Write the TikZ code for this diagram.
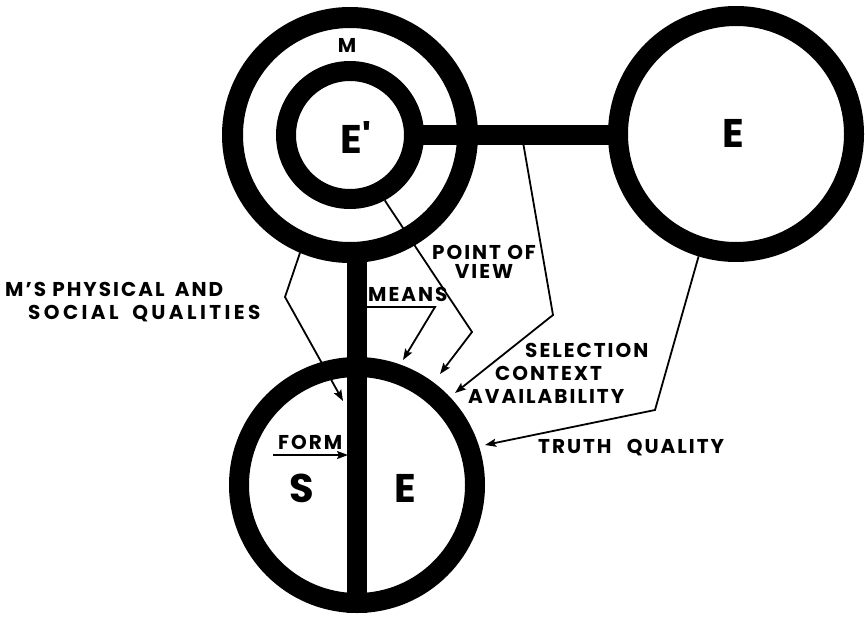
\documentclass[tikz,border=0pt]{standalone}
\usepackage{fontspec}
\usepackage{tikz}
\usetikzlibrary{arrows.meta,positioning,calc}
\newfontfamily\labelfont{Poppins}[LetterSpace=10]

\begin{document}
\begin{tikzpicture}[
    x=1pt, y=-1pt,
    ring/.style={circle, draw, fill=white, line width=20pt, inner sep=0pt},
    bar/.style={line width=20pt},
    lbl/.style={font=\labelfont\bfseries\fontsize{20}{23}\selectfont, inner sep=0pt},
    big/.style={font=\labelfont\bfseries\fontsize{40}{40}\selectfont, inner sep=0pt},
    link/.style={line width=1.8pt, line join=miter},
    arrow/.style={link, -{Stealth[length=11pt,width=8pt,inset=2pt]}}
]
    \useasboundingbox (0,0) rectangle (865,616);

    % Circles
    \node[ring, line width=21pt, minimum size=235pt] (M) at (350,135) {};
    \node[ring, minimum size=128pt] (Eprime) at (350,135) {};
    \node[ring, minimum size=236pt] (E) at (736,134) {};
    \node[ring, minimum size=236pt] (SE) at (357,485) {};

    % Bars
    \draw[bar, shorten <=-6pt, shorten >=-6pt] (Eprime.east) -- (Eprime.east -| E.west);
    \draw[bar, shorten <=-6pt] (M.south -| SE.center) -- (SE.south);

    % Letters
    \node[lbl] (mlabel) at (347,45) {M};
    \node[big] (eplabel) at (356,137) {E\textquotesingle};
    \node[big] (elabel) at (733,133) {E};
    \node[big] (slabel) at (302,488) {S};
    \node[big] (e2label) at (405,488) {E};

    % Labels
    \node[lbl, align=left, anchor=north west] (phys) at (5,282) {M’S PHYSICAL\hspace{4pt} AND\\\hspace*{23pt}{\addfontfeature{LetterSpace=17}SOCIAL\hspace{6pt} QUALITIES}};
    \node[lbl, anchor=north west] (means) at (368,287) {MEANS};
    \node[lbl, align=center, anchor=north] (view) at (484,245) {POINT OF\\[-4pt]VIEW};
    \node[lbl, align=left, anchor=north west] (select) at (468,343) {\hspace*{57pt}SELECTION\\\hspace*{27pt}CONTEXT\\AVAILABILITY};
    \node[lbl, anchor=north west] (truth) at (538,439) {TRUTH\hspace{9pt} QUALITY};
    \node[lbl, anchor=north west] (form) at (278,435) {FORM};

    % Connectors
    \coordinate (physbend) at (285,297);
    \coordinate (phystip) at (343,401);
    \coordinate (meansfoot) at (366,307);
    \coordinate (meansbend) at (435,307);
    \coordinate (meanstip) at (403,360);
    \coordinate (viewbend) at (472,332);
    \coordinate (viewtip) at (440,374);
    \coordinate (selfoot) at (523,142);
    \coordinate (selbend) at (553,315);
    \coordinate (seltip) at (455,393);
    \coordinate (truthbend) at (655,410);
    \coordinate (truthtip) at (485,445);
    \coordinate (formfoot) at (273,455);
    \coordinate (formtip) at (348,455);

    \draw[arrow] (M.247.7) -- (physbend) -- (phystip);
    \draw[arrow] (meansfoot) -- (meansbend) -- (meanstip);
    \draw[arrow] (Eprime.298) -- (viewbend) -- (viewtip);
    \draw[arrow] (selfoot) -- (selbend) -- (seltip);
    \draw[arrow] (E.253) -- (truthbend) -- (truthtip);
    \draw[arrow] (formfoot) -- (formtip);
\end{tikzpicture}
\end{document}
